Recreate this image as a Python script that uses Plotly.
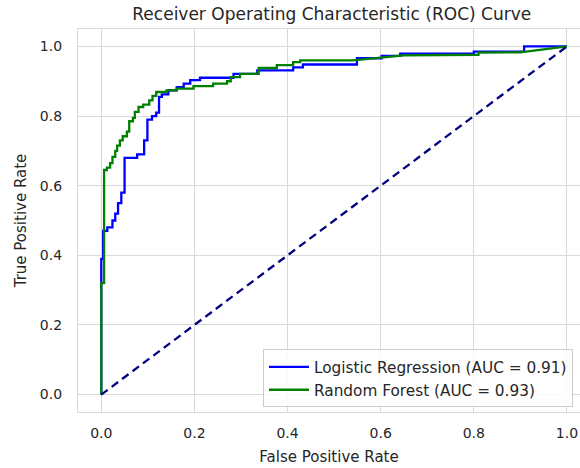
import plotly.graph_objects as go

# Logistic Regression ROC points
lr_fpr = [0.0, 0.0, 0.004, 0.004, 0.013, 0.013, 0.024, 0.024, 0.030, 0.030, 0.036, 0.036,
          0.043, 0.043, 0.050, 0.050, 0.077, 0.077, 0.092, 0.092, 0.099, 0.099, 0.109, 0.109,
          0.118, 0.118, 0.124, 0.124, 0.130, 0.130, 0.144, 0.144, 0.162, 0.162, 0.177, 0.177,
          0.191, 0.191, 0.212, 0.212, 0.284, 0.284, 0.335, 0.335, 0.412, 0.412, 0.433, 0.433,
          0.549, 0.549, 0.602, 0.602, 0.642, 0.642, 0.800, 0.800, 0.908, 0.908, 1.0]
lr_tpr = [0.0, 0.39, 0.39, 0.47, 0.47, 0.48, 0.48, 0.50, 0.50, 0.52, 0.52, 0.55,
          0.55, 0.58, 0.58, 0.68, 0.68, 0.69, 0.69, 0.73, 0.73, 0.79, 0.79, 0.80,
          0.80, 0.81, 0.81, 0.855, 0.855, 0.862, 0.862, 0.874, 0.874, 0.883, 0.883, 0.893,
          0.893, 0.903, 0.903, 0.910, 0.910, 0.921, 0.921, 0.931, 0.931, 0.940, 0.940, 0.948,
          0.948, 0.966, 0.966, 0.973, 0.973, 0.979, 0.979, 0.985, 0.985, 1.0, 1.0]

# Random Forest ROC points
rf_fpr = [0.0, 0.0, 0.006, 0.006, 0.012, 0.012, 0.019, 0.019, 0.024, 0.024, 0.030, 0.030,
          0.034, 0.034, 0.040, 0.040, 0.046, 0.046, 0.055, 0.055, 0.060, 0.060, 0.068, 0.068,
          0.072, 0.072, 0.080, 0.080, 0.090, 0.090, 0.103, 0.103, 0.110, 0.110, 0.118, 0.118,
          0.140, 0.140, 0.162, 0.162, 0.198, 0.198, 0.240, 0.240, 0.270, 0.270, 0.278, 0.278,
          0.298, 0.298, 0.338, 0.338, 0.377, 0.377, 0.412, 0.412, 0.427, 0.427, 0.540, 0.650,
          0.810, 0.810, 0.900, 1.0]
rf_tpr = [0.0, 0.32, 0.32, 0.645, 0.645, 0.652, 0.652, 0.665, 0.665, 0.683, 0.683, 0.700,
          0.700, 0.715, 0.715, 0.730, 0.730, 0.742, 0.742, 0.755, 0.755, 0.785, 0.785, 0.795,
          0.795, 0.812, 0.812, 0.826, 0.826, 0.833, 0.833, 0.845, 0.845, 0.858, 0.858, 0.869,
          0.869, 0.874, 0.874, 0.879, 0.879, 0.886, 0.886, 0.893, 0.893, 0.900, 0.900, 0.912,
          0.912, 0.921, 0.921, 0.938, 0.938, 0.946, 0.946, 0.955, 0.955, 0.960, 0.960, 0.974,
          0.976, 0.982, 0.983, 1.0]

chance = [0.0, 1.0]
tick_vals = [0.0, 0.2, 0.4, 0.6, 0.8, 1.0]
tick_text = ["0.0", "0.2", "0.4", "0.6", "0.8", "1.0"]

txt = "#262626"
grid = "#d9d9d9"
font = "DejaVu Sans"

fig = go.Figure()
fig.add_trace(go.Scatter(x=lr_fpr, y=lr_tpr, mode="lines",
                         line=dict(color="blue", width=2.3),
                         name="Logistic Regression (AUC = 0.91)"))
fig.add_trace(go.Scatter(x=rf_fpr, y=rf_tpr, mode="lines",
                         line=dict(color="green", width=2.3),
                         name="Random Forest (AUC = 0.93)"))
fig.add_trace(go.Scatter(x=chance, y=chance, mode="lines",
                         line=dict(color="navy", width=2.3, dash="8px,5px"),
                         showlegend=False))

fig.update_layout(
    width=580, height=468,
    margin=dict(l=78, r=0, t=29, b=56, autoexpand=False),
    paper_bgcolor="white", plot_bgcolor="white",
    font=dict(family=font, size=14, color=txt),
    title=dict(text="Receiver Operating Characteristic (ROC) Curve",
               x=0.572, xref="container", xanchor="center", y=0.971, yref="container",
               yanchor="middle",
               font=dict(size=17, color=txt)),
    legend=dict(x=0.3685, y=0.012, xanchor="left", yanchor="bottom",
                bgcolor="rgba(255,255,255,0.85)", bordercolor="#cccccc", borderwidth=1,
                font=dict(size=15.3, color=txt), tracegroupgap=0, itemwidth=40),
    showlegend=True,
)
fig.update_xaxes(range=[-0.05, 1.028], tickvals=tick_vals, ticktext=tick_text,
                 automargin=True,
                 showgrid=True, gridcolor=grid, gridwidth=1, zeroline=False,
                 showline=True, linecolor=grid, linewidth=1.3, mirror=True,
                 ticks="", ticklabelstandoff=8,
                 tickfont=dict(size=14, color=txt),
                 title=dict(text="False Positive Rate", font=dict(size=15, color=txt), standoff=11))
fig.update_yaxes(range=[-0.05, 1.05], tickvals=tick_vals, ticktext=tick_text,
                 automargin=True,
                 showgrid=True, gridcolor=grid, gridwidth=1, zeroline=False,
                 showline=True, linecolor=grid, linewidth=1.3, mirror=True,
                 ticks="", ticklabelstandoff=12,
                 tickfont=dict(size=14, color=txt),
                 title=dict(text="True Positive Rate", font=dict(size=15, color=txt), standoff=9))

fig.write_html("out.html",
               config={"displayModeBar": False},
               post_script="document.body.style.margin='0px';"
                           "document.body.style.overflow='hidden';")
